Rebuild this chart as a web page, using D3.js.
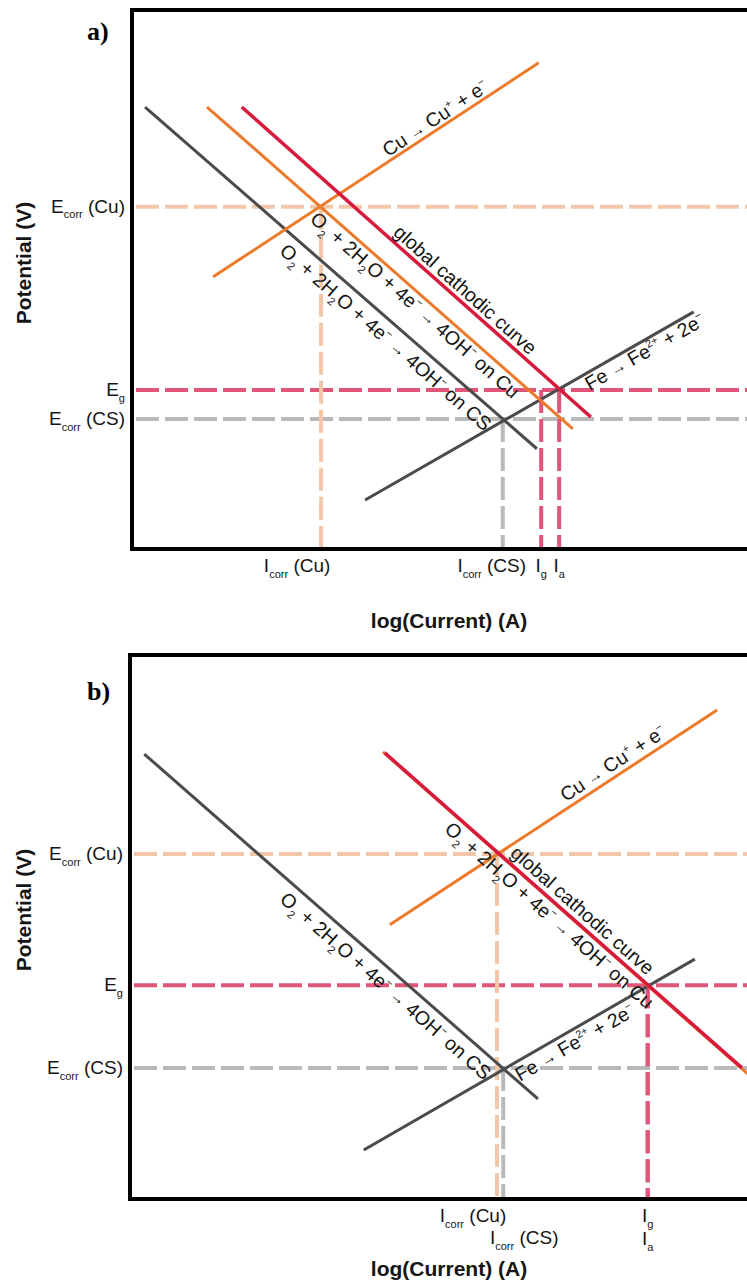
<!DOCTYPE html>
<html>
<head>
<meta charset="utf-8">
<script src="https://cdn.jsdelivr.net/npm/d3@7"></script>
<style>
  body { margin: 0; background: #fff; }
  text { white-space: pre; }
</style>
</head>
<body>
<svg id="fig" width="747" height="1285"></svg>
<script>
// ---------- data (schematic units, 0–10 on both axes) ----------
const levelKeys = ["EcorrCu", "Eg", "EcorrCS"];
const levelText = ["E_{corr} (Cu)", "E_{g}", "E_{corr} (CS)"];
const levelsA = [6.35, 2.95, 2.41];
const levelsB = [6.34, 3.93, 2.41];

const currentKeys = ["IcorrCu", "IcorrCS", "Ig", "Ia"];
const currentText = ["I_{corr} (Cu)", "I_{corr} (CS)", "I_{g}", "I_{a}"];
const currentsA = [3.05, 5.98, 6.60, 6.89];
const currentTopsA = [6.35, 2.41, 2.95, 2.95];
const currentsB = [5.92, 6.02, 8.35, 8.35];
const currentTopsB = [6.34, 2.41, 3.93, 3.93];

const curveKeys = ["cathCS", "anodFe", "cathCu", "anodCu", "global"];
const curveText = [
  "O_{2} + 2H_{2}O + 4e^{−} → 4OH^{−} on CS",
  "Fe → Fe^{2+} + 2e^{−}",
  "O_{2} + 2H_{2}O + 4e^{−} → 4OH^{−} on Cu",
  "Cu → Cu^{+} + e^{−}",
  "global cathodic curve"
];
const curveXA = [[0.21, 6.53], [3.76, 9.06], [1.21, 7.11], [1.31, 6.56], [1.77, 7.40]];
const curveYA = [[8.20, 1.86], [0.91, 4.40], [8.20, 2.23], [5.05, 9.02], [8.20, 2.45]];
const curveXB = [[0.23, 6.58], [3.77, 9.11], [4.08, 10.16], [4.19, 9.47], [4.11, 9.87]];
const curveYB = [[8.18, 1.84], [0.90, 4.41], [8.22, 2.10], [5.04, 8.99], [8.20, 2.41]];

// ---------- layout & style ----------
const colors = {
  cathCS: "#4b4b4b", anodFe: "#4b4b4b", cathCu: "#ec7a2a", anodCu: "#ec7a2a", global: "#d81a3c",
  EcorrCu: "#f2c6a8", Eg: "#e15678", EcorrCS: "#b9b9b9",
  IcorrCu: "#f2c6a8", IcorrCS: "#b9b9b9", Ig: "#e15678", Ia: "#e15678"
};
const curveWidth = { cathCS: 3, anodFe: 3, cathCu: 3, anodCu: 3, global: 3.5 };
const LABEL_SIZE = 19.5;
const TICK_SIZE = 19;

const panelsLayout = [
  { id: "a)", left: 132, top: 10, bottom: 549, tagY: 40, yTitle: 263, xTitle: 628,
    levels: levelsA, currents: currentsA, tops: currentTopsA, cx: curveXA, cy: curveYA,
    // label placement: fraction along curve, baseline offset (px, + = above)
    labelT: [0.64, 0.835, 0.589, 0.70, 0.618], labelD: [-22, -17, -18, 4, 5],
    // x tick labels: dx from marker, baseline
    tickDx: [-24, -11, 0, 0], tickY: [572, 572, 572, 572] },
  { id: "b)", left: 130, top: 655, bottom: 1199, tagY: 700, yTitle: 910, xTitle: 1276,
    levels: levelsB, currents: currentsB, tops: currentTopsB, cx: curveXB, cy: curveYB,
    labelT: [0.639, 0.619, 0.463, 0.703, 0.53], labelD: [-22, -19, -19, 6, 6],
    tickDx: [-24, 21, 0, 0], tickY: [1222, 1244, 1222, 1245] }
];

const svg = d3.select("#fig");
const FONT = "'Liberation Sans', Arial, Helvetica, sans-serif";

// simple markup: _{sub}, ^{sup}, small arrow
function richText(sel, str, size) {
  const parts = str.split(/(_\{[^}]*\}|\^\{[^}]*\}|→)/).filter(s => s.length);
  let shift = 0;
  parts.forEach(p => {
    let txt = p, fs = size, target = 0;
    if (p.startsWith("_{")) { txt = p.slice(2, -1); fs = size * 0.58; target = size * 0.3; }
    else if (p.startsWith("^{")) { txt = p.slice(2, -1); fs = size * 0.55; target = -size * 0.42; }
    else if (p === "→") { fs = size * 0.8; target = -size * 0.04; }
    sel.append("tspan").attr("font-size", fs).attr("dy", target - shift).text(txt);
    shift = target;
  });
}

panelsLayout.forEach(P => {
  const right = 770;
  const x = d3.scaleLinear().domain([0, 10]).range([P.left, P.left + 620]);
  const y = d3.scaleLinear().domain([0, 10]).range([P.bottom, P.top]);
  const g = svg.append("g");

  // reference levels (horizontal dashes)
  g.selectAll("line.level").data(levelKeys).join("line")
    .attr("x1", P.left + 4).attr("x2", right)
    .attr("y1", (k, i) => y(P.levels[i])).attr("y2", (k, i) => y(P.levels[i]))
    .attr("stroke", k => colors[k]).attr("stroke-width", 4).attr("stroke-dasharray", "23,6");

  // current drops (vertical dashes)
  g.selectAll("line.cur").data(currentKeys).join("line")
    .attr("x1", (k, i) => x(P.currents[i])).attr("x2", (k, i) => x(P.currents[i]))
    .attr("y1", (k, i) => y(P.tops[i])).attr("y2", P.bottom)
    .attr("stroke", k => colors[k]).attr("stroke-width", 4).attr("stroke-dasharray", "23,6");

  // polarization curves
  const line = d3.line().x(d => x(d[0])).y(d => y(d[1]));
  curveKeys.forEach((k, i) => {
    g.append("path")
      .attr("d", line([[P.cx[i][0], P.cy[i][0]], [P.cx[i][1], P.cy[i][1]]]))
      .attr("stroke", colors[k]).attr("stroke-width", curveWidth[k])
      .attr("fill", "none").attr("stroke-linecap", "butt");
  });

  // curve labels, rotated along each curve
  curveKeys.forEach((k, i) => {
    const x0 = x(P.cx[i][0]), y0 = y(P.cy[i][0]), x1 = x(P.cx[i][1]), y1 = y(P.cy[i][1]);
    const t = P.labelT[i];
    const px = x0 + (x1 - x0) * t, py = y0 + (y1 - y0) * t;
    const ang = Math.atan2(y1 - y0, x1 - x0) * 180 / Math.PI;
    const txt = g.append("text")
      .attr("transform", `translate(${px},${py}) rotate(${ang})`)
      .attr("y", -P.labelD[i]).attr("text-anchor", "middle")
      .attr("font-family", FONT).attr("font-size", LABEL_SIZE).attr("fill", "#151515");
    richText(txt, curveText[i], LABEL_SIZE);
  });

  // frame (left, top, bottom)
  g.append("path")
    .attr("d", `M${right},${P.top}H${P.left}V${P.bottom}H${right}`)
    .attr("fill", "none").attr("stroke", "#000").attr("stroke-width", 4);

  // potential labels
  levelKeys.forEach((k, i) => {
    const t = g.append("text").attr("x", P.left - 7).attr("y", y(P.levels[i]) + 6)
      .attr("text-anchor", "end").attr("font-family", FONT).attr("font-size", TICK_SIZE).attr("fill", "#151515");
    richText(t, levelText[i], TICK_SIZE);
  });

  // current labels
  currentKeys.forEach((k, i) => {
    const t = g.append("text").attr("x", x(P.currents[i]) + P.tickDx[i]).attr("y", P.tickY[i])
      .attr("text-anchor", "middle").attr("font-family", FONT).attr("font-size", TICK_SIZE).attr("fill", "#151515");
    richText(t, currentText[i], TICK_SIZE);
  });

  // axis titles
  g.append("text").attr("transform", `translate(31,${P.yTitle}) rotate(-90)`)
    .attr("text-anchor", "middle").attr("font-family", FONT).attr("font-weight", "bold")
    .attr("font-size", 21).attr("fill", "#151515").text("Potential (V)");
  g.append("text").attr("x", 449).attr("y", P.xTitle)
    .attr("text-anchor", "middle").attr("font-family", FONT).attr("font-weight", "bold")
    .attr("font-size", 21).attr("fill", "#151515").text("log(Current) (A)");

  // panel tag
  g.append("text").attr("x", 87).attr("y", P.tagY)
    .attr("font-family", "'Liberation Serif', 'Times New Roman', serif").attr("font-weight", "bold")
    .attr("font-size", 26).attr("fill", "#000").text(P.id);
});
</script>
</body>
</html>
